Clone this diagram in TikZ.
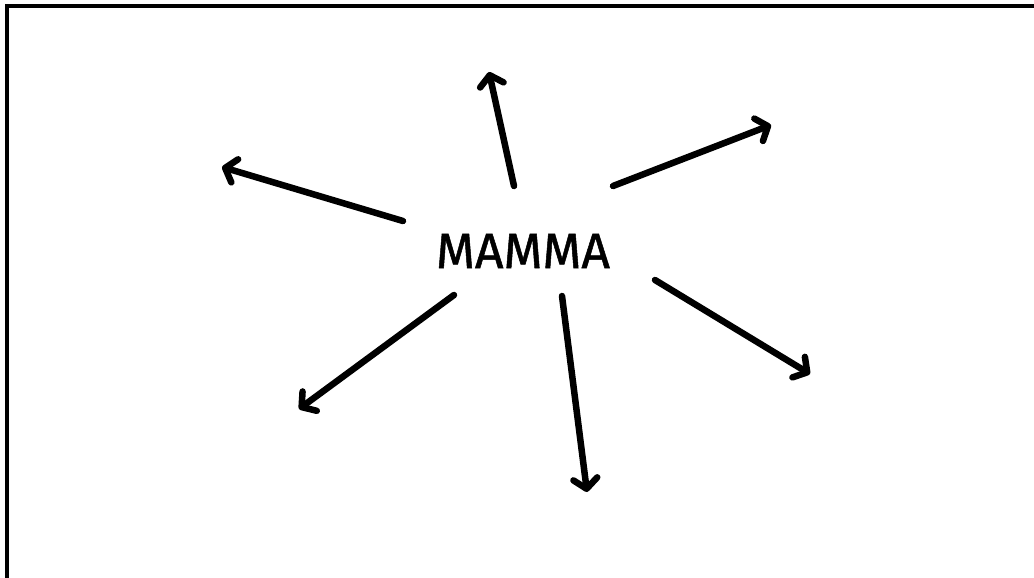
\documentclass[tikz,border=0pt]{standalone}
\usepackage{fontspec}
\newfontfamily\wordfont[FakeBold=1]{Fira Sans}
\usetikzlibrary{arrows.meta}

\tikzset{
  ray/.style={line width=6.5pt,line cap=round,-{Straight Barb[length=10pt,width=24pt,round]}},
  word/.style={font=\wordfont\fontsize{50}{50}\selectfont,inner sep=0pt}
}

\begin{document}
\begin{tikzpicture}[x=1pt,y=-1pt]
\useasboundingbox (0,0) rectangle (1034,578);
% frame, cut off at the right and bottom
\begin{scope}
\clip (0,0) rectangle (1034,578);
\draw[line width=4.5pt](7,6) rectangle (1050,600);
\end{scope}
\node[word] (mamma) at (523,251) {MAMMA};
% start and end of each ray
\foreach \n/\sx/\sy/\ex/\ey in {up/514/186/489/72, upright/613/186/771/125,
  left/403/221/222/167, downleft/454/295/299/409,
  down/562/296/587/492, downright/655/280/810/374}{
  \coordinate (\n s) at (\sx,\sy);
  \coordinate (\n e) at (\ex,\ey);
  \draw[ray](\n s)--(\n e);
}
\end{tikzpicture}
\end{document}
